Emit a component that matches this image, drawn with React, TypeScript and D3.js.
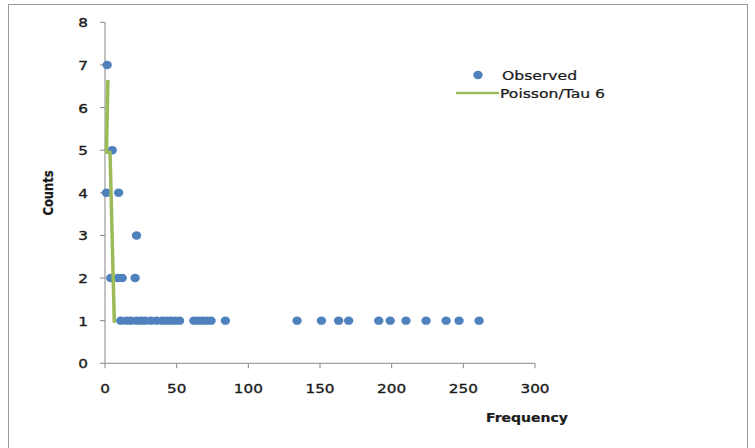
import React from "react";
import * as d3 from "d3";

const W = 755;
const H = 448;

// Observed points: [frequency, count]
const obsFreq2: number[] = [4, 9, 12, 21];
const obsFreq1: number[] = [11, 15, 18, 22, 25, 28, 32, 36, 40, 43, 46, 49, 52, 62, 65, 68, 71, 74, 84, 134, 151, 163, 170, 191, 199, 210, 224, 238, 247, 261];
const observedX: number[] = [1.5, 1, 5, 9.5, 22, ...obsFreq2, ...obsFreq1];
const observedY: number[] = [7, 4, 5, 4, 3, ...obsFreq2.map(() => 2), ...obsFreq1.map(() => 1)];

// Poisson/Tau 6 line
const poissonX: number[] = [2, 1, 3.5, 6.5];
const poissonY: number[] = [6.65, 4.95, 4.95, 0.95];

const xTicks: number[] = [0, 50, 100, 150, 200, 250, 300];
const yTicks: number[] = [0, 1, 2, 3, 4, 5, 6, 7, 8];

const BLUE = "#4F81BD";
const GREEN = "#9BBB59";
const AXIS = "#878787";
const FONT = "'DejaVu Sans', sans-serif";

export default function App() {
  const x = d3.scaleLinear().domain([0, 300]).range([105, 535]);
  const y = d3.scaleLinear().domain([0, 8]).range([363.3, 22.3]);

  const line = d3
    .line<number>()
    .x((_, i) => x(poissonX[i]))
    .y((d) => y(d));

  const sx = 1.22;
  const stretched = (tx: number, ty: number) => `translate(${tx},${ty}) scale(${sx},1)`;
  const txt = { fontFamily: FONT, fill: "#1a1a1a", stroke: "#1a1a1a", strokeWidth: 0.35 };

  return (
    <svg
      width={W}
      height={H}
      style={{ position: "absolute", left: 0, top: 0, background: "#fff" }}
    >
      <rect x={8.5} y={4.5} width={739} height={460} fill="none" stroke="#9a9a9a" strokeWidth={1} />

      {/* axes */}
      <line x1={x(0)} x2={x(0)} y1={y(8)} y2={y(0)} stroke={AXIS} strokeWidth={1} />
      <line x1={x(0)} x2={x(300)} y1={y(0)} y2={y(0)} stroke={AXIS} strokeWidth={1} />
      {yTicks.map((t) => (
        <g key={"y" + t}>
          <line x1={x(0) - 5} x2={x(0)} y1={y(t)} y2={y(t)} stroke={AXIS} />
          <text transform={stretched(88, y(t) + 5)} textAnchor="end" fontSize={12.5} {...txt}>
            {t}
          </text>
        </g>
      ))}
      {xTicks.map((t) => (
        <g key={"x" + t}>
          <line x1={x(t)} x2={x(t)} y1={y(0)} y2={y(0) + 5} stroke={AXIS} />
          <text transform={stretched(x(t), 393)} textAnchor="middle" fontSize={12.5} {...txt}>
            {t}
          </text>
        </g>
      ))}

      {/* axis titles */}
      <text
        transform={`translate(53,193) rotate(-90) scale(1,${sx})`}
        textAnchor="middle"
        fontWeight="bold"
        fontSize={11.5}
        {...txt}
        strokeWidth={0.2}
      >
        Counts
      </text>
      <text
        transform={stretched(527, 422)}
        textAnchor="middle"
        fontWeight="bold"
        fontSize={11.5}
        {...txt}
        strokeWidth={0.2}
      >
        Frequency
      </text>

      {/* observed points */}
      {observedY.map((v, i) => (
        <ellipse key={"p" + i} cx={x(observedX[i])} cy={y(v)} rx={4.7} ry={4.2} fill={BLUE} />
      ))}

      {/* Poisson line */}
      <path d={line(poissonY) || ""} fill="none" stroke={GREEN} strokeWidth={3.5} strokeLinejoin="round" />

      {/* legend */}
      <ellipse cx={478} cy={75} rx={4.7} ry={4.2} fill={BLUE} />
      <text transform={stretched(502, 79.5)} fontSize={12.8} {...txt} strokeWidth={0.25}>
        Observed
      </text>
      <line x1={456} x2={499} y1={93} y2={93} stroke={GREEN} strokeWidth={2.5} />
      <text transform={stretched(500, 97.5)} fontSize={12.8} {...txt} strokeWidth={0.25}>
        Poisson/Tau 6
      </text>
    </svg>
  );
}
